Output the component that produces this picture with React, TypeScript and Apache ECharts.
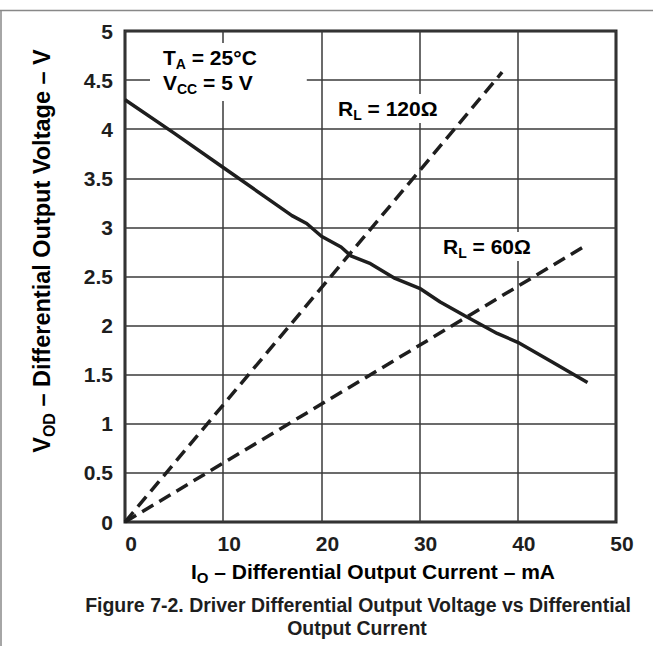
import React, { useEffect, useRef } from "react";
import * as echarts from "echarts";

// Solid curve: V_OD vs I_O
const currentMA = [0, 5, 10, 15, 17, 18.5, 20, 22, 23, 25, 27.5, 30, 32.1, 34.6, 37.9, 40, 43.5, 47.1];
const vodV = [4.3, 3.96, 3.61, 3.26, 3.12, 3.04, 2.91, 2.8, 2.71, 2.63, 2.48, 2.38, 2.24, 2.1, 1.92, 1.83, 1.63, 1.42];

// Load lines (dashed)
const rl120I = [0, 38.4];
const rl120V = [0, 4.58];
const rl60I = [0, 47];
const rl60V = [0, 2.82];

const xTicks = [0, 10, 20, 30, 40, 50];
const yTicks = [0, 0.5, 1, 1.5, 2, 2.5, 3, 3.5, 4, 4.5, 5];

const FONT = "'Liberation Sans', Arial, Helvetica, sans-serif";
const INK = "#1e1e1e";

function richSub(main: number, sub: number, lh: number, drop: number) {
  return {
    m: { fontSize: main, fontWeight: "bold", fontFamily: FONT, color: INK, lineHeight: lh },
    s: { fontSize: sub, fontWeight: "bold", fontFamily: FONT, color: INK, lineHeight: lh, padding: [drop, 0, 0, 0] },
  };
}

export default function App() {
  const ref = useRef<HTMLDivElement>(null);
  useEffect(() => {
    if (!ref.current) return;
    const chart = echarts.init(ref.current, undefined, { renderer: "svg" });
    const zip = (a: number[], b: number[]) => a.map((v, i) => [v, b[i]]);
    const annRich = richSub(21, 14, 25, 13);
    chart.setOption({
      animation: false,
      backgroundColor: "#fff",
      grid: { left: 125, right: 37, top: 31, bottom: 124, show: true, borderColor: "#222", borderWidth: 3 },
      xAxis: {
        type: "value",
        min: xTicks[0],
        max: xTicks[xTicks.length - 1],
        interval: 10,
        axisLine: { show: false },
        axisTick: { show: false },
        splitLine: { show: true, lineStyle: { color: "#3a3a3a", width: 1.5 } },
        axisLabel: {
          margin: 11,
          fontSize: 21,
          fontWeight: "bold",
          fontFamily: FONT,
          color: INK,
          padding: [0, 0, 0, 12],
        },
      },
      yAxis: {
        type: "value",
        min: yTicks[0],
        max: yTicks[yTicks.length - 1],
        interval: 0.5,
        axisLine: { show: false },
        axisTick: { show: false },
        splitLine: { show: true, lineStyle: { color: "#3a3a3a", width: 1.5 } },
        axisLabel: {
          margin: 12,
          fontSize: 21,
          fontWeight: "bold",
          fontFamily: FONT,
          color: INK,
          formatter: (v: number) => String(v),
        },
      },
      series: [
        {
          type: "line",
          data: zip(currentMA, vodV),
          symbol: "none",
          lineStyle: { color: INK, width: 3.5 },
          z: 5,
        },
        {
          type: "line",
          data: zip(rl120I, rl120V),
          symbol: "none",
          lineStyle: { color: INK, width: 3.5, type: [13, 7] },
          z: 5,
        },
        {
          type: "line",
          data: zip(rl60I, rl60V),
          symbol: "none",
          lineStyle: { color: INK, width: 3.5, type: [13, 7] },
          z: 5,
        },
      ],
      graphic: [
        { type: "line", shape: { x1: 0, y1: 10.5, x2: 653, y2: 10.5 }, style: { stroke: "#888", lineWidth: 1.5 } },
        { type: "line", shape: { x1: 1, y1: 10, x2: 1, y2: 646 }, style: { stroke: "#888", lineWidth: 1.5 } },
        {
          type: "text",
          x: 150,
          y: 43,
          z: 10,
          style: {
            text: "{m|T}{s|A}{m| = 25°C}\n{m|V}{s|CC}{m| = 5 V}",
            rich: annRich,
            backgroundColor: "#fff",
            padding: [2, 50, 6, 13],
          },
        },
        {
          type: "text",
          x: 332,
          y: 94,
          z: 10,
          style: {
            text: "{m|R}{s|L}{m| = 120Ω}",
            rich: annRich,
            backgroundColor: "#fff",
            padding: [2, 6, 2, 6],
          },
        },
        {
          type: "text",
          x: 437,
          y: 232,
          z: 10,
          style: {
            text: "{m|R}{s|L}{m| = 60Ω}",
            rich: annRich,
            backgroundColor: "#fff",
            padding: [2, 6, 2, 6],
          },
        },
        {
          type: "text",
          x: 373,
          y: 571,
          style: {
            text: "{m|I}{s|O}{m| – Differential Output Current – mA}",
            rich: richSub(21, 15, 26, 13),
            align: "center",
            verticalAlign: "middle",
          },
        },
        {
          type: "text",
          x: 42,
          y: 251,
          rotation: Math.PI / 2,
          style: {
            text: "{m|V}{s|OD}{m| – Differential Output Voltage – V}",
            rich: richSub(23.5, 16, 28, 14),
            align: "center",
            verticalAlign: "middle",
          },
        },
        {
          type: "text",
          x: 358,
          y: 605,
          style: {
            text: "Figure 7-2. Driver Differential Output Voltage vs Differential",
            font: `bold 19.5px ${FONT}`,
            fill: INK,
            align: "center",
            verticalAlign: "middle",
          },
        },
        {
          type: "text",
          x: 357,
          y: 628,
          style: {
            text: "Output Current",
            font: `bold 19.5px ${FONT}`,
            fill: INK,
            align: "center",
            verticalAlign: "middle",
          },
        },
      ],
    });
    return () => chart.dispose();
  }, []);
  return <div ref={ref} style={{ position: "fixed", left: 0, top: 0, width: 653, height: 646 }} />;
}
